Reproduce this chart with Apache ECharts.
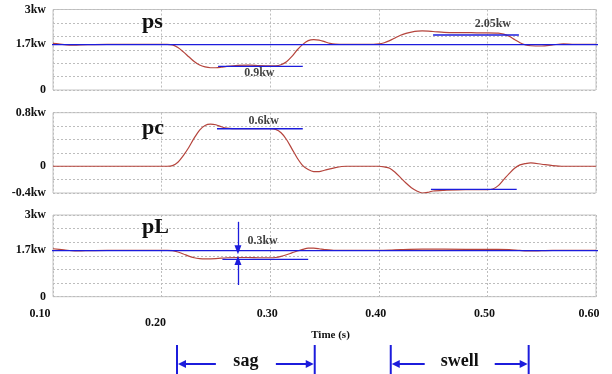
<!DOCTYPE html>
<html><head><meta charset="utf-8">
<script src="https://cdn.jsdelivr.net/npm/echarts@6/dist/echarts.min.js"></script>
<style>html,body{margin:0;padding:0;background:#fff}#c{width:612px;height:374px}</style>
</head><body><div id="c"></div>
<script>
// ---- data ----
const xTicks = [0.1, 0.2, 0.3, 0.4, 0.5, 0.6];
const psCurve = [[0.100,1.74],[0.105,1.72],[0.115,1.67],[0.125,1.68],[0.150,1.70],[0.205,1.70],[0.210,1.68],[0.215,1.58],[0.220,1.42],[0.225,1.24],[0.230,1.06],[0.235,0.93],[0.240,0.86],[0.245,0.83],[0.250,0.83],[0.255,0.85],[0.260,0.88],[0.270,0.92],[0.280,0.93],[0.290,0.91],[0.300,0.90],[0.305,0.90],[0.310,0.94],[0.315,1.05],[0.320,1.25],[0.325,1.50],[0.330,1.70],[0.335,1.84],[0.340,1.88],[0.345,1.86],[0.350,1.80],[0.355,1.74],[0.360,1.71],[0.370,1.70],[0.390,1.70],[0.400,1.72],[0.405,1.76],[0.410,1.84],[0.415,1.94],[0.420,2.04],[0.425,2.11],[0.430,2.16],[0.440,2.20],[0.450,2.18],[0.460,2.15],[0.470,2.14],[0.480,2.14],[0.490,2.13],[0.500,2.13],[0.510,2.12],[0.515,2.08],[0.520,2.00],[0.525,1.88],[0.530,1.76],[0.535,1.68],[0.540,1.65],[0.550,1.64],[0.560,1.68],[0.570,1.72],[0.580,1.70],[0.600,1.70]];
const pcCurve = [[0.100,0],[0.205,0],[0.210,0.01],[0.215,0.06],[0.220,0.16],[0.225,0.28],[0.230,0.42],[0.235,0.54],[0.240,0.61],[0.245,0.63],[0.250,0.62],[0.255,0.59],[0.260,0.57],[0.270,0.56],[0.280,0.56],[0.290,0.56],[0.300,0.56],[0.305,0.55],[0.310,0.50],[0.315,0.40],[0.320,0.26],[0.325,0.12],[0.330,0.01],[0.335,-0.05],[0.340,-0.08],[0.345,-0.08],[0.350,-0.06],[0.360,-0.02],[0.370,0],[0.380,0],[0.400,0],[0.405,-0.01],[0.410,-0.03],[0.415,-0.09],[0.420,-0.17],[0.425,-0.25],[0.430,-0.32],[0.435,-0.37],[0.440,-0.40],[0.445,-0.39],[0.450,-0.37],[0.460,-0.36],[0.480,-0.35],[0.500,-0.35],[0.505,-0.34],[0.510,-0.29],[0.515,-0.20],[0.520,-0.11],[0.525,-0.03],[0.530,0.02],[0.535,0.04],[0.540,0.05],[0.550,0.03],[0.560,0.01],[0.570,0],[0.600,0]];
const pLCurve = [[0.100,1.76],[0.110,1.72],[0.120,1.68],[0.130,1.69],[0.150,1.70],[0.205,1.70],[0.210,1.69],[0.215,1.64],[0.220,1.57],[0.225,1.49],[0.230,1.43],[0.235,1.40],[0.240,1.39],[0.250,1.40],[0.260,1.43],[0.270,1.44],[0.280,1.44],[0.290,1.43],[0.300,1.43],[0.305,1.44],[0.310,1.48],[0.315,1.54],[0.320,1.61],[0.325,1.68],[0.330,1.74],[0.335,1.78],[0.340,1.78],[0.345,1.76],[0.350,1.73],[0.360,1.70],[0.400,1.70],[0.410,1.71],[0.420,1.73],[0.440,1.75],[0.480,1.74],[0.510,1.74],[0.520,1.73],[0.530,1.70],[0.540,1.68],[0.550,1.69],[0.560,1.70],[0.600,1.70]];
// reference (blue) segments: [t0, t1, value]
const psRefs = [[0.095, 0.602, 1.69], [0.252, 0.330, 0.88], [0.450, 0.529, 2.05]];
const pcRefs = [[0.251, 0.330, 0.56], [0.448, 0.527, -0.345]];
const pLRefs = [[0.095, 0.602, 1.69], [0.256, 0.335, 1.37]];
// text annotations: [t, value, text]
const psNotes = [[0.290, 0.63, '0.9kw'], [0.505, 2.45, '2.05kw']];
const pcNotes = [[0.294, 0.68, '0.6kw'], [0.503, -0.51, '-0.35kw']];
const pLNotes = [[0.293, 2.05, '0.3kw']];
const panelNames = ['ps', 'pc', 'pL'];
const psLabels = [0, 1.7, 3];
const pcLabels = [-0.4, 0, 0.8];
const pLLabels = [0, 1.7, 3];
const events = [['sag', 0.2142, 0.341], ['swell', 0.411, 0.538]];

const RED = '#b5443c', BLUE = '#1c1cdc';
const FONT = '"Liberation Serif", "DejaVu Serif", serif';
const chart = echarts.init(document.getElementById('c'), null, {renderer: 'canvas'});

const grids = [
  {left: 53, right: 16, top: 9.5, height: 80.5},
  {left: 53, right: 16, top: 112.7, height: 80.3},
  {left: 53, right: 16, top: 215, height: 81.7}
];
grids.forEach(g => { g.show = true; g.borderColor = '#c4c4c4'; g.borderWidth = 1; g.backgroundColor = '#fff'; });

const splitDash = {show: true, lineStyle: {color: '#bdbdbd', type: [2, 2], width: 1}};

const xAxes = [0, 1, 2].map(i => ({
  type: 'value', gridIndex: i, min: 0.1, max: 0.6, interval: 0.1,
  axisLine: {show: false}, axisTick: {show: false},
  splitLine: splitDash,
  axisLabel: i === 2 ? {
    show: true, color: '#111', fontFamily: FONT, fontWeight: 'bold', fontSize: 12, margin: 11,
    formatter: v => {
      const s = v.toFixed(2);
      if (Math.abs(v - 0.1) < 1e-6) return '{a|' + s + '}';
      if (Math.abs(v - 0.2) < 1e-6) return '{b|' + s + '}';
      if (Math.abs(v - 0.6) < 1e-6) return '{a2|' + s + '}';
      return '{c|' + s + '}';
    },
    rich: {
      a: {fontFamily: FONT, fontWeight: 'bold', fontSize: 12, color: '#111', padding: [0, 26, 0, 0]},
      a2: {fontFamily: FONT, fontWeight: 'bold', fontSize: 12, color: '#111', padding: [0, 14, 0, 0]},
      b: {fontFamily: FONT, fontWeight: 'bold', fontSize: 12, color: '#111', padding: [9, 12, 0, 0]},
      c: {fontFamily: FONT, fontWeight: 'bold', fontSize: 12, color: '#111', padding: [0, 6, 0, 0]}
    }
  } : {show: false},
  name: i === 2 ? 'Time (s)' : '', nameLocation: 'middle', nameGap: 32,
  nameTextStyle: {fontFamily: FONT, fontWeight: 'bold', fontSize: 11, color: '#111', padding: [0, 0, 0, 12]}
}));

function yAx(i, min, max, labels) {
  return {
    type: 'value', gridIndex: i, min: min, max: max, interval: (max - min) / 6,
    axisLine: {show: false}, axisTick: {show: false},
    splitLine: splitDash,
    axisLabel: {
      customValues: labels, color: '#111', fontFamily: FONT, fontWeight: 'bold', fontSize: 12, margin: 7,
      formatter: v => (Math.abs(v) < 1e-9 ? '0' : (+v.toFixed(2)) + 'kw')
    }
  };
}
const yAxes = [yAx(0, 0, 3, psLabels), yAx(1, -0.4, 0.8, pcLabels), yAx(2, 0, 3, pLLabels)];

const series = [];
function addPanel(i, curve, refs, notes, extra) {
  series.push({type: 'line', xAxisIndex: i, yAxisIndex: i, data: curve, smooth: 0.3, symbol: 'none',
    lineStyle: {color: RED, width: 1.2}, z: 3, silent: true, ...(extra || {})});
  refs.forEach(r => series.push({type: 'line', xAxisIndex: i, yAxisIndex: i, data: [[r[0], r[2]], [r[1], r[2]]],
    symbol: 'none', lineStyle: {color: BLUE, width: 1.3}, z: 4, silent: true, clip: false}));
  series.push({type: 'scatter', xAxisIndex: i, yAxisIndex: i, symbolSize: 0, z: 5, silent: true,
    data: notes.map(n => ({value: [n[0], n[1]], label: {show: true, formatter: n[2], position: 'inside',
      fontFamily: FONT, fontWeight: 'bold', fontSize: 12, color: '#111'}}))});
}
addPanel(0, psCurve, psRefs, psNotes);
addPanel(1, pcCurve, pcRefs, pcNotes);
addPanel(2, pLCurve, pLRefs, pLNotes, {
  markLine: {silent: true, symbol: ['none', 'triangle'], symbolSize: [7, 9], label: {show: false},
    lineStyle: {color: BLUE, width: 1.3, type: 'solid'},
    data: [
      [{coord: [0.2703, 2.75]}, {coord: [0.2703, 1.72]}],
      [{coord: [0.2703, 0.43]}, {coord: [0.2703, 1.33]}]
    ]}
});

chart.setOption({
  animation: false,
  grid: grids, xAxis: xAxes, yAxis: yAxes, series: series
});

// overlays: panel names and sag/swell markers
const g = [];
const nameY = [24, 130, 229];
panelNames.forEach((n, i) => {
  g.push({type: 'text', left: 142, top: nameY[i] - 13, z: 10,
    style: {text: n, font: 'bold 22px ' + FONT, fill: '#111'}});
});
events.forEach(ev => {
  const x0 = chart.convertToPixel({xAxisIndex: 2}, ev[1]);
  const x1 = chart.convertToPixel({xAxisIndex: 2}, ev[2]);
  const yTop = 345, yBot = 374, yA = 364;
  const mid = (x0 + x1) / 2;
  const gap = ev[0] === 'sag' ? 30 : 35;
  const ls = {stroke: BLUE, lineWidth: 2};
  g.push({type: 'line', shape: {x1: x0, y1: yTop, x2: x0, y2: yBot}, style: ls});
  g.push({type: 'line', shape: {x1: x1, y1: yTop, x2: x1, y2: yBot}, style: ls});
  g.push({type: 'line', shape: {x1: x0 + 6, y1: yA, x2: mid - gap, y2: yA}, style: ls});
  g.push({type: 'line', shape: {x1: mid + gap, y1: yA, x2: x1 - 6, y2: yA}, style: ls});
  g.push({type: 'polygon', shape: {points: [[x0 + 1, yA], [x0 + 9, yA - 4], [x0 + 9, yA + 4]]}, style: {fill: BLUE}});
  g.push({type: 'polygon', shape: {points: [[x1 - 1, yA], [x1 - 9, yA - 4], [x1 - 9, yA + 4]]}, style: {fill: BLUE}});
  g.push({type: 'text', x: mid, y: yA - 3, z: 10,
    style: {text: ev[0], font: 'bold 18px ' + FONT, fill: '#111', textAlign: 'center', textVerticalAlign: 'middle'}});
});
chart.setOption({graphic: g});
</script></body></html>
